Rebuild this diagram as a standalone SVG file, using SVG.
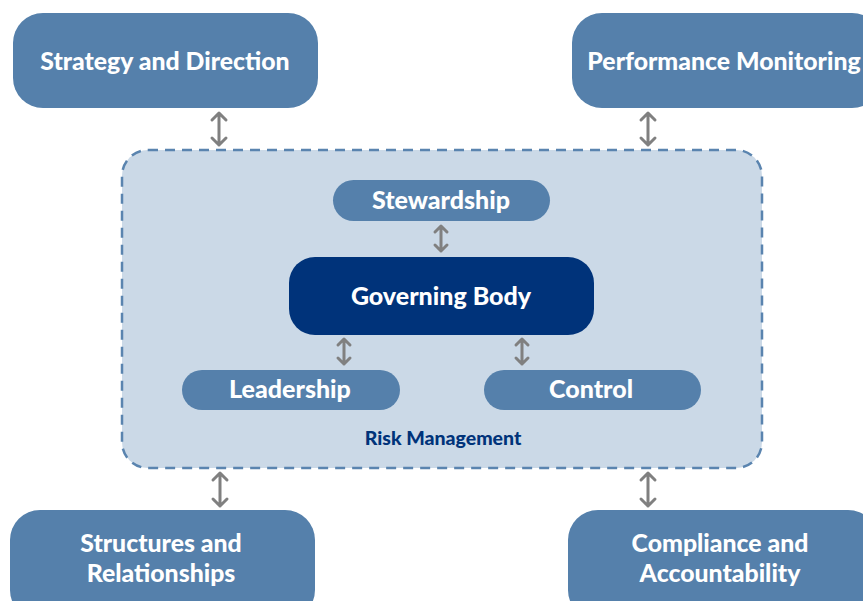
<svg xmlns="http://www.w3.org/2000/svg" width="863" height="601" viewBox="0 0 863 601">
<style>
.box{fill:#5580ab}
.t{font-family:Lato,"Liberation Sans",sans-serif;font-weight:900;fill:#fff;text-anchor:middle}
.big{font-size:24.8px}
.mid{font-size:25px}
.arr{fill:none;stroke:#808080;stroke-width:3;stroke-linecap:round;stroke-linejoin:round}
</style>
<rect width="863" height="601" fill="#fff"/>
<g id="risk-management">
<rect x="122" y="150" width="640" height="318" rx="26" fill="#cbd9e7" stroke="#5a84af" stroke-width="2.5" stroke-dasharray="10 7"/>
<text x="443" y="445" class="t" style="font-size:19.5px;fill:#00337a">Risk Management</text>
</g>
<g id="strategy"><rect class="box" x="13" y="13" width="305" height="95" rx="30"/><text x="165" y="70" class="t big">Strategy and Direction</text></g>
<g id="performance"><rect class="box" x="572" y="13" width="310" height="95" rx="30"/><text x="724" y="70" class="t big">Performance Monitoring</text></g>
<g id="structures"><rect class="box" x="10" y="510" width="305" height="110" rx="30"/><text x="161" y="552" class="t big">Structures and</text><text x="161" y="582" class="t big">Relationships</text></g>
<g id="compliance"><rect class="box" x="568" y="510" width="310" height="110" rx="30"/><text x="720" y="552" class="t big">Compliance and</text><text x="720" y="582" class="t big">Accountability</text></g>
<g id="stewardship"><rect class="box" x="333" y="180" width="217" height="41" rx="20.5"/><text x="441" y="209" class="t mid">Stewardship</text></g>
<g id="governing-body"><rect x="289" y="257" width="305" height="78" rx="26" fill="#00337a"/><text x="441" y="305" class="t mid">Governing Body</text></g>
<g id="leadership"><rect class="box" x="182" y="370" width="218" height="40" rx="20"/><text x="290" y="398" class="t mid">Leadership</text></g>
<g id="control"><rect class="box" x="484" y="370" width="217" height="40" rx="20"/><text x="591" y="398" class="t mid">Control</text></g>
<g id="connectors" class="arr">
<path d="M219 113V145M212 120L219 113L226 120M212 138L219 145L226 138"/>
<path d="M648 113V145M641 120L648 113L655 120M641 138L648 145L655 138"/>
<path d="M441 226V251M435 232L441 226L447 232M435 245L441 251L447 245"/>
<path d="M344 339V364M338 345L344 339L350 345M338 358L344 364L350 358"/>
<path d="M522 339V364M516 345L522 339L528 345M516 358L522 364L528 358"/>
<path d="M220 473V506M213 480L220 473L227 480M213 499L220 506L227 499"/>
<path d="M648 473V506M641 480L648 473L655 480M641 499L648 506L655 499"/>
</g>
</svg>
